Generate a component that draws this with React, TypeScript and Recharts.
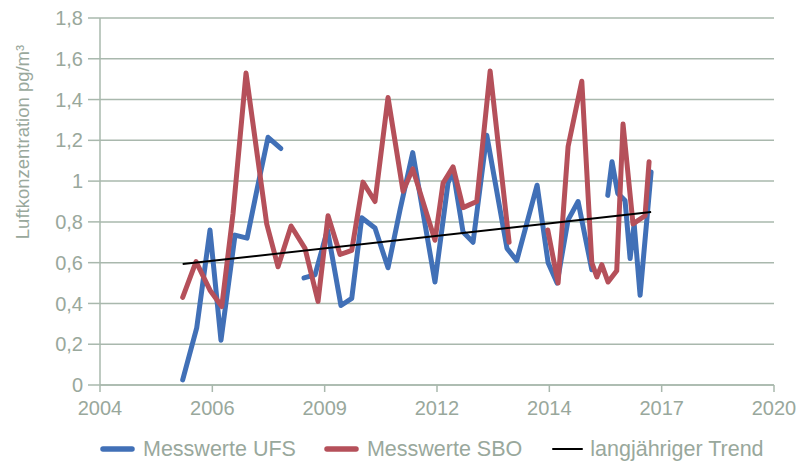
import React from 'react'
import {
  LineChart,
  Line,
  XAxis,
  YAxis,
  CartesianGrid,
  Legend,
} from 'recharts'

// x values are days since 2004-01-01 (axis steps of 1000 days, like the Excel date axis)
const xTickDays = [0, 1000, 2000, 3000, 4000, 5000, 6000]
const xTickLabels = ['2004', '2006', '2009', '2012', '2014', '2017', '2020']

const yTicks = [0, 0.2, 0.4, 0.6, 0.8, 1, 1.2, 1.4, 1.6, 1.8]
const yTickLabels = ['0', '0,2', '0,4', '0,6', '0,8', '1', '1,2', '1,4', '1,6', '1,8']

// Messwerte UFS (null = no measurement, line breaks)
const ufsDays = [
  736, 861, 979, 1077, 1202, 1309, 1402, 1496, 1609, 1710,
  1816, 1914, 2025, 2145, 2241, 2330, 2448, 2564, 2671, 2784,
  2982, 3098, 3143, 3232, 3321, 3443, 3623, 3710, 3891, 3989,
  4069, 4167, 4256, 4378, 4450, 4520, 4558, 4609, 4674, 4719,
  4755, 4808, 4906,
]
const ufsValues = [
  0.025, 0.28, 0.76, 0.22, 0.735, 0.72, 0.97, 1.215, 1.16, null,
  0.525, 0.54, 0.76, 0.39, 0.425, 0.82, 0.77, 0.575, 0.86, 1.14,
  0.505, 0.99, 1.05, 0.75, 0.7, 1.225, 0.67, 0.61, 0.98, 0.6,
  0.5, 0.81, 0.9, 0.565, null, 0.93, 1.095, 0.94, 0.905, 0.62,
  0.79, 0.44, 1.045,
]

// Messwerte SBO
const sboDays = [
  736, 855, 979, 1084, 1184, 1300, 1484, 1585, 1701, 1825,
  1941, 2030, 2137, 2241, 2341, 2448, 2564, 2698, 2784, 2982,
  3054, 3143, 3232, 3354, 3473, 3642, 3810, 3986, 4078, 4167,
  4289, 4378, 4423, 4467, 4523, 4600, 4656, 4745, 4852, 4888,
]
const sboValues = [
  0.43, 0.605, 0.465, 0.385, 0.84, 1.53, 0.79, 0.58, 0.78, 0.67,
  0.41, 0.83, 0.64, 0.66, 0.995, 0.9, 1.41, 0.95, 1.06, 0.71,
  0.99, 1.07, 0.87, 0.9, 1.54, 0.7, null, 0.76, 0.5, 1.17,
  1.49, 0.6, 0.53, 0.59, 0.505, 0.56, 1.28, 0.79, 0.83, 1.095,
]

// langjähriger Trend
const trendDays = [736, 4906]
const trendValues = [0.593, 0.848]

const seriesNames = ['Messwerte UFS', 'Messwerte SBO', 'langjähriger Trend']
const seriesColors = ['#4170b7', '#b5505a', '#000000']

const ufsData = ufsDays.map((d, i) => ({ day: d, value: ufsValues[i] }))
const sboData = sboDays.map((d, i) => ({ day: d, value: sboValues[i] }))
const trendData = trendDays.map((d, i) => ({ day: d, value: trendValues[i] }))

const gridColor = '#a9b8ad'
const textColor = '#99a89c'
const font = "'Liberation Sans', Arial, sans-serif"

const LegendContent = () => (
  <div
    style={{
      display: 'flex',
      alignItems: 'center',
      paddingLeft: 100,
      marginTop: 9,
      height: 30,
      fontFamily: font,
      fontSize: 21.5,
      color: textColor,
      whiteSpace: 'nowrap',
    }}
  >
    {seriesNames.map((name, i) => (
      <div key={name} style={{ display: 'flex', alignItems: 'center', marginRight: 28 }}>
        <svg width={35} height={8} style={{ marginRight: i === 2 ? 5 : 8 }}>
          <line
            x1={3}
            x2={32}
            y1={4}
            y2={4}
            stroke={seriesColors[i]}
            strokeWidth={i === 2 ? 2 : 5.5}
            strokeLinecap="round"
          />
        </svg>
        <span>{name}</span>
      </div>
    ))}
  </div>
)

export default function App() {
  return (
    <div style={{ position: 'absolute', left: 0, top: 0, background: '#fff' }}>
      <LineChart width={798} height={462} margin={{ top: 18, right: 24, bottom: 7, left: 0 }}>
        <CartesianGrid vertical={false} stroke={gridColor} strokeWidth={1.5} />
        <XAxis
          type="number"
          dataKey="day"
          domain={[0, 6000]}
          ticks={xTickDays}
          tickFormatter={(v: number) => xTickLabels[xTickDays.indexOf(v)]}
          height={40}
          stroke={gridColor}
          strokeWidth={1.5}
          tickSize={7}
          tickMargin={9}
          tick={{ fill: textColor, fontSize: 20, fontFamily: font }}
          allowDataOverflow
        />
        <YAxis
          type="number"
          domain={[0, 1.8]}
          ticks={yTicks}
          tickFormatter={(v: number) => yTickLabels[yTicks.indexOf(v)]}
          width={100}
          stroke={gridColor}
          strokeWidth={1.5}
          tickSize={12}
          tickMargin={5}
          tick={{ fill: textColor, fontSize: 20, fontFamily: font }}
          label={{
            content: () => (
              <text
                x={22}
                y={142}
                transform="rotate(-90, 22, 142)"
                textAnchor="middle"
                dominantBaseline="central"
                fill={textColor}
                fontSize={18.5}
                fontFamily={font}
              >
                Luftkonzentration pg/m³
              </text>
            ),
          }}
        />
        <Legend verticalAlign="bottom" height={30} content={<LegendContent />} wrapperStyle={{ left: 0, width: 798 }} />
        <Line
          data={ufsData}
          dataKey="value"
          name={seriesNames[0]}
          type="linear"
          stroke={seriesColors[0]}
          strokeWidth={5}
          strokeLinejoin="round"
          strokeLinecap="round"
          dot={false}
          isAnimationActive={false}
        />
        <Line
          data={sboData}
          dataKey="value"
          name={seriesNames[1]}
          type="linear"
          stroke={seriesColors[1]}
          strokeWidth={5}
          strokeLinejoin="round"
          strokeLinecap="round"
          dot={false}
          isAnimationActive={false}
        />
        <Line
          data={trendData}
          dataKey="value"
          name={seriesNames[2]}
          type="linear"
          stroke={seriesColors[2]}
          strokeWidth={2}
          dot={false}
          isAnimationActive={false}
        />
      </LineChart>
    </div>
  )
}
